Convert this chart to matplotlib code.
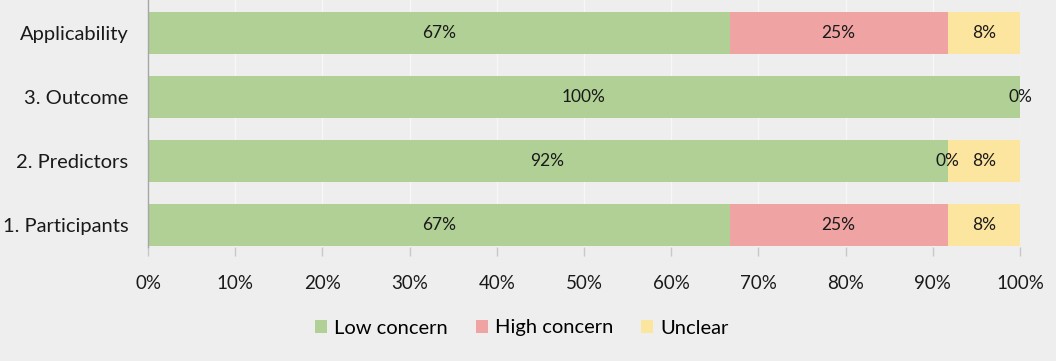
import numpy as np
import matplotlib.pyplot as plt
from matplotlib.ticker import PercentFormatter

# --- data (bottom to top) ---
categories = ['1. Participants', '2. Predictors', '3. Outcome', 'Applicability']
low_concern = [66.7, 91.7, 100.0, 66.7]
high_concern = [25.0, 0.0, 0.0, 25.0]
unclear = [8.3, 8.3, 0.0, 8.3]
series_names = ['Low concern', 'High concern', 'Unclear']
colors = ['#B1D095', '#EFA3A2', '#FCE59E']

plt.rcParams['font.family'] = ['Lato', 'DejaVu Sans']
bg = '#EEEEEE'

fig = plt.figure(figsize=(10.56, 3.61), dpi=100, facecolor=bg)
ax = fig.add_axes([148 / 1056, 1 - 247 / 361, (1020 - 148) / 1056, 247 / 361])
ax.set_facecolor(bg)

y = np.arange(len(categories))
left = np.zeros(len(categories))
drawn = set()
for name, vals, col in zip(series_names, [low_concern, high_concern, unclear], colors):
    vals = np.array(vals)
    ax.barh(y, vals, left=left, height=0.656, color=col, label=name, zorder=2)
    for yi, l, v in zip(y, left, vals):
        xc = round(l + v / 2, 1)
        if (yi, xc) in drawn:  # stacked zero labels sit on top of each other
            continue
        drawn.add((yi, xc))
        ax.text(xc, yi, f'{v:.0f}%', ha='center', va='center',
                fontsize=12.5, color='#1A1A1A', zorder=3)
    left = left + vals

ax.set_xlim(0, 100)
ax.set_ylim(-0.344, 3.516)
ax.set_xticks(np.arange(0, 101, 10))
ax.xaxis.set_major_formatter(PercentFormatter(decimals=0))
ax.set_yticks(y)
ax.set_yticklabels(categories)
ax.grid(axis='x', color='#F7F7F7', linewidth=1, zorder=0)
ax.set_axisbelow(True)

for s in ['top', 'right', 'bottom']:
    ax.spines[s].set_visible(False)
ax.spines['left'].set_color('#A6A6A6')
ax.spines['left'].set_linewidth(1)

ax.tick_params(axis='x', length=6.5, width=1, color='#C8C8C8', pad=14,
               labelsize=13.5, labelcolor='#1A1A1A')
ax.tick_params(axis='y', length=0, pad=14, labelsize=14.5, labelcolor='#1A1A1A')

fig.legend(loc='center', bbox_to_anchor=(0.494, 1 - 328 / 361), ncol=3, frameon=False,
           fontsize=14.5, handlelength=0.6, handleheight=0.6, handletextpad=0.35,
           columnspacing=1.4)

fig.savefig('out.png', dpi=100, facecolor=bg)
